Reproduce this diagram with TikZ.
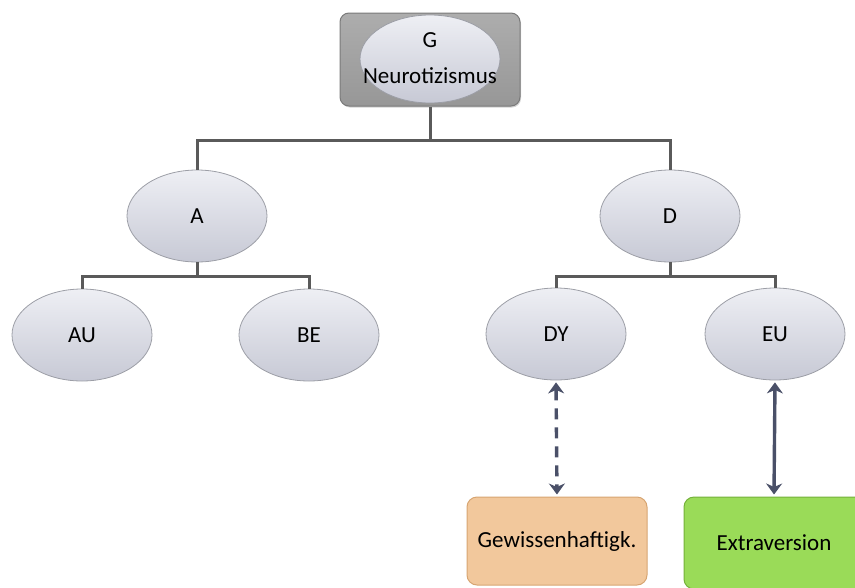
\documentclass[tikz,border=0pt]{standalone}
\usepackage{fontspec}
\setmainfont{Carlito}
\usetikzlibrary{shapes.geometric,arrows.meta,shadows}

\definecolor{ellTop}{HTML}{EEEFF4}
\definecolor{ellBot}{HTML}{C7C9D5}
\definecolor{ellLine}{HTML}{9C9EA6}
\definecolor{boxGray}{HTML}{ADADAD}
\definecolor{boxGrayDark}{HTML}{979797}
\definecolor{boxGrayLine}{HTML}{7A7A7A}
\definecolor{linkGray}{HTML}{5A5A5A}
\definecolor{arrowSlate}{HTML}{4A5068}
\definecolor{peach}{HTML}{F2C89C}
\definecolor{peachLine}{HTML}{D7A572}
\definecolor{leaf}{HTML}{9ADB58}
\definecolor{leafLine}{HTML}{74B13A}

\tikzset{
  labelfont/.style={font=\fontsize{23}{27}\selectfont},
  factor/.style={ellipse, draw=ellLine, line width=0.8pt,
    top color=ellTop, bottom color=ellBot,
    minimum width=140pt, minimum height=92pt, inner sep=0pt, labelfont},
  rootbox/.style={rectangle, rounded corners=9pt, draw=boxGrayLine, line width=1pt,
    top color=boxGray, bottom color=boxGrayDark,
    minimum width=180pt, minimum height=93pt,
    drop shadow={shadow xshift=1pt, shadow yshift=-1.5pt, opacity=0.35}},
  traitbox/.style={rectangle, rounded corners=10pt, line width=1pt,
    minimum width=180pt, minimum height=88pt, inner sep=0pt, labelfont},
  link/.style={draw=linkGray, line width=3pt},
  corr/.style={draw=arrowSlate, line width=3.4pt,
    {Stealth[length=11pt,width=16pt,inset=3.5pt]}-{Stealth[length=11pt,width=16pt,inset=3.5pt]},
    shorten <=2pt, shorten >=2pt},
}

\begin{document}
\begin{tikzpicture}[x=1pt, y=-1pt]
  \clip (0,0) rectangle (855,587);
  \useasboundingbox (0,0) rectangle (855,587);

  % root factor: grey frame, ellipse and two text lines
  \node[rootbox] (Gbox) at (430,59.5) {};
  \node[factor, minimum height=88pt] (G) at (430,59) {};
  \node[labelfont, inner sep=0pt] (Gname) at (430,40) {G};
  \node[labelfont, inner sep=0pt] (Gtitle) at (430,76) {Neurotizismus};

  % second level
  \node[factor] (A) at (197,216) {A};
  \node[factor] (D) at (670,216) {D};

  % third level
  \node[factor] (AU) at (82,335) {AU};
  \node[factor] (BE) at (309,335) {BE};
  \node[factor] (DY) at (556,334) {DY};
  \node[factor] (EU) at (775,334) {EU};

  % external traits
  \node[traitbox, draw=peachLine, fill=peach] (GW) at (557,541) {Gewissenhaftigk.};
  \node[traitbox, draw=leafLine, fill=leaf, minimum height=92pt] (EX) at (774,543) {Extraversion};

  % junction points of the tree
  \coordinate (jG) at (430,140);
  \coordinate (jA) at (197,276);
  \coordinate (jD) at (670,276);

  % tree connectors
  \draw[link] (Gbox.south) -- (jG);
  \draw[link] (jG) -| (A.north);
  \draw[link] (jG) -| (D.north);
  \draw[link] (A.south) -- (jA);
  \draw[link] (jA) -| (AU.north);
  \draw[link] (jA) -| (BE.north);
  \draw[link] (D.south) -- (jD);
  \draw[link] (jD) -| (DY.north);
  \draw[link] (jD) -| (EU.north);

  % correlations with outside traits
  \draw[corr, dash pattern=on 11pt off 8pt] (DY.south) -- (GW.north);
  \draw[corr] (EU.south) -- (EX.north);
\end{tikzpicture}
\end{document}
